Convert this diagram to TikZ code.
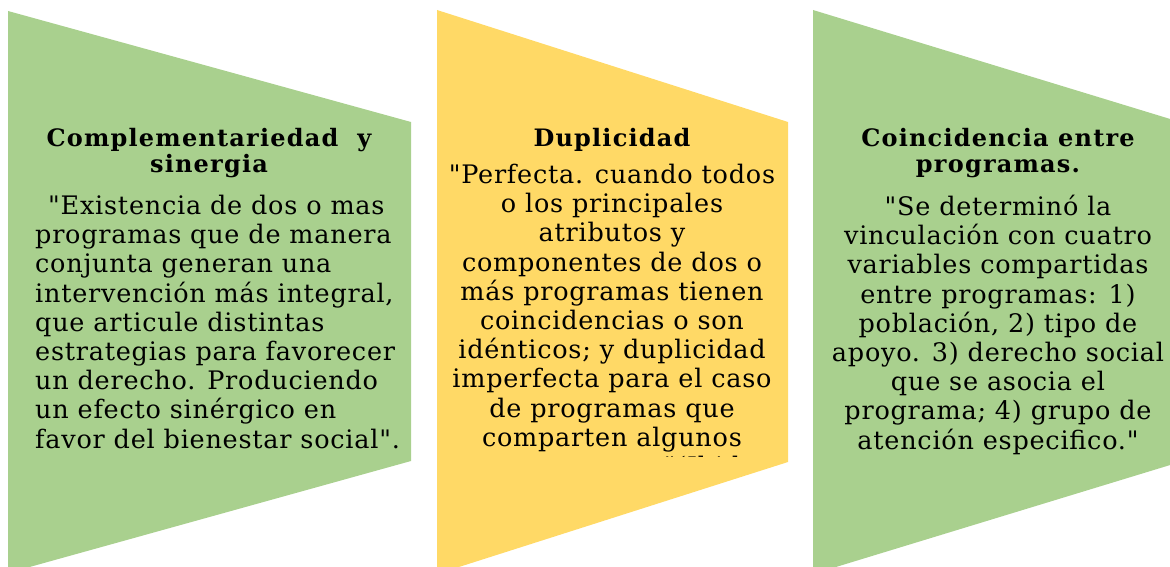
\documentclass[tikz,border=0pt]{standalone}
\usepackage{fontspec}
\setmainfont{DejaVu Serif}[Ligatures=TeXOff]
\newfontfamily\bodyfont{DejaVu Serif}[Ligatures=TeXOff,LetterSpace=3]
\newfontfamily\headfont{DejaVu Serif}[Ligatures=TeXOff,LetterSpace=5]
\usepackage{tikz}
\usepackage{xcolor}
\definecolor{leafgreen}{HTML}{A9D08E}
\definecolor{softgold}{HTML}{FFD966}

\begin{document}
\begin{tikzpicture}[x=1pt,y=-1pt,
  panel/.style={draw=none},
  headtext/.style={anchor=north,align=center,inner sep=0pt,font=\headfont\bfseries\fontsize{24}{26}\selectfont},
  bodytext/.style={anchor=north,align=center,inner sep=0pt,font=\bodyfont\fontsize{25.5}{29.2}\selectfont}]
  \useasboundingbox (0,0) rectangle (1170,567);
  \clip (0,0) rectangle (1170,567);
  % panel Complementariedad
  \fill[panel,leafgreen] (8,11) -- (411,122) -- (411,461) -- (8,573) -- cycle;
  \node[headtext] (head1) at (209,128) {Complementariedad \ y\\sinergia};
  \node[bodytext,anchor=north west,align=left] (body1) at (35,195)
    {\hspace*{13pt}"Existencia de dos o mas\\programas que de manera\\conjunta generan una\\intervención más integral,\\que articule distintas\\estrategias para favorecer\\un derecho. Produciendo\\un efecto sinérgico en\\favor del bienestar social".};
  % panel Duplicidad
  \fill[panel,softgold] (437,10) -- (788,122) -- (788,462) -- (437,574) -- cycle;
  \node[headtext] (head2) at (612,128) {Duplicidad};
  \begin{scope}
    \clip (437,0) rectangle (788,456);
    \node[bodytext] (body2) at (612,164)
      {"Perfecta. cuando todos\\o los principales\\atributos y\\componentes de dos o\\más programas tienen\\coincidencias o son\\idénticos; y duplicidad\\imperfecta para el caso\\de programas que\\comparten algunos\\componentes"(Ibid};
  \end{scope}
  % panel Coincidencia
  \fill[panel,leafgreen] (813,10) -- (1180,122) -- (1180,462) -- (813,574) -- cycle;
  \node[headtext] (head3) at (998,128) {Coincidencia entre\\programas.};
  \node[bodytext] (body3) at (998,195)
    {"Se determinó la\\vinculación con cuatro\\variables compartidas\\entre programas: 1)\\población, 2) tipo de\\apoyo. 3) derecho social\\que se asocia el\\programa; 4) grupo de\\atención especifico."};
\end{tikzpicture}
\end{document}
